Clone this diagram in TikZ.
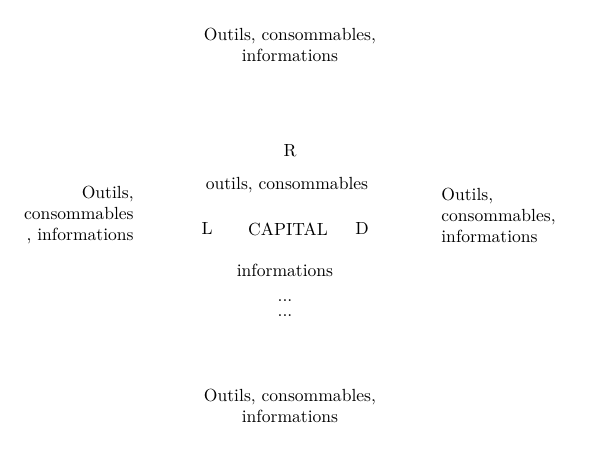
\documentclass[tikz,border=0pt]{standalone}
\usetikzlibrary{positioning}

\begin{document}
\begin{tikzpicture}[
    x=0.02cm, y=-0.02cm,
    every node/.style={font=\normalsize, inner sep=0pt},
    flux/.style={align=center},
    fluxl/.style={align=right, anchor=east},
    fluxr/.style={align=left, anchor=west}
]
\useasboundingbox (0,0) rectangle (600,456);
\node[flux] (top) at (290,45) {Outils, consommables,\\informations};
\node[flux] (bottom) at (290,406) {Outils, consommables,\\informations};
\node[fluxl] (left) at (134,215) {Outils,\\consommables\\, informations};
\node[fluxr] (right) at (441,215) {Outils,\\consommables,\\informations};
\node (capital) at (288,229) {CAPITAL};
\node (r) at (290,151) {R};
\node (l) at (207,229) {L};
\node (d) at (362,229) {D};
\node (outils) at (287,185) {outils, consommables};
\node (info) at (285,270) {informations};
\node[flux] (dots) at (285,308) {...\\[-3pt]...};
\end{tikzpicture}
\end{document}
